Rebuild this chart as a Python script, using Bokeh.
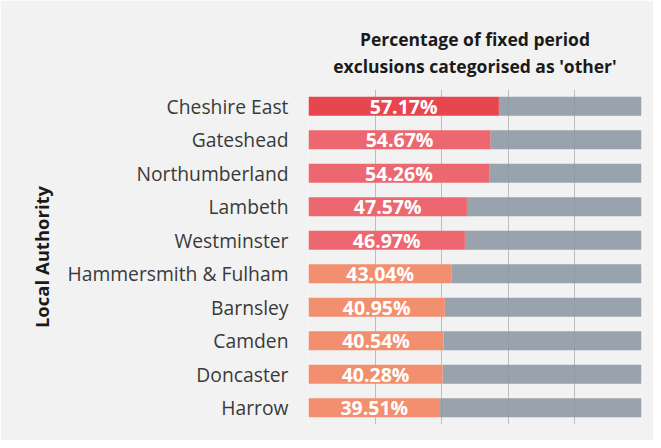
from bokeh.plotting import figure
from bokeh.models import ColumnDataSource, Range1d, FixedTicker, Title
from bokeh.core.properties import value
from bokeh.embed import file_html
from bokeh.resources import INLINE

authorities = ["Cheshire East", "Gateshead", "Northumberland", "Lambeth", "Westminster",
               "Hammersmith & Fulham", "Barnsley", "Camden", "Doncaster", "Harrow"]
pct_other = [57.17, 54.67, 54.26, 47.57, 46.97, 43.04, 40.95, 40.54, 40.28, 39.51]
x_ticks = [0, 20, 40, 60, 80, 100]
title_lines = ["Percentage of fixed period", "exclusions categorised as 'other'"]

def band_color(v):
    if v >= 55:
        return "#e8464f"
    if v >= 45:
        return "#ec6770"
    return "#f18f6f"

src = ColumnDataSource(dict(
    name=authorities,
    val=pct_other,
    rest_end=[100] * len(pct_other),
    mid=[v / 2 for v in pct_other],
    label=["%.2f%%" % v for v in pct_other],
    color=[band_color(v) for v in pct_other],
))

FONT = "Open Sans"
bg = "#f2f2f2"
p = figure(width=653, height=440, y_range=list(reversed(authorities)),
           x_range=Range1d(0, 100), x_axis_location="above",
           output_backend="svg", toolbar_location=None,
           min_border_left=308, min_border_right=12, min_border_top=89, min_border_bottom=16)

p.background_fill_color = bg
p.border_fill_color = bg
p.outline_line_color = None

p.hbar(y="name", left="val", right="rest_end", height=0.57, source=src,
       fill_color="#8a95a1", fill_alpha=0.85, line_color=None)
p.hbar(y="name", left=0, right="val", height=0.57, source=src,
       fill_color="color", line_color=None)
p.text(x="mid", y="name", text="label", source=src, text_align="center",
       text_baseline="middle", text_color="white", text_font=value(FONT),
       text_font_style="bold", text_font_size="19.5px")

p.xgrid.ticker = FixedTicker(ticks=x_ticks)
p.xgrid.grid_line_color = "#bdbdbd"
p.xgrid.grid_line_width = 1
p.ygrid.grid_line_color = None

# top axis carries only the second title line as its label
xa = p.xaxis[0]
xa.ticker = FixedTicker(ticks=[])
xa.axis_line_color = None
xa.major_tick_line_color = None
xa.minor_tick_line_color = None
xa.major_tick_out = 0
xa.major_tick_in = 0
xa.minor_tick_out = 0
xa.major_label_standoff = 0
xa.axis_label = title_lines[1]
xa.axis_label_standoff = 12
xa.axis_label_text_font = FONT
xa.axis_label_text_font_size = "17.5px"
xa.axis_label_text_font_style = "bold"
xa.axis_label_text_color = "#1a1a1a"

p.add_layout(Title(text=title_lines[0], align="center", text_font=FONT,
                   text_font_size="17.5px", text_font_style="bold",
                   text_color="#1a1a1a", standoff=0), "above")

ax = p.yaxis[0]
ax.axis_line_color = None
ax.major_tick_line_color = None
ax.minor_tick_line_color = None
ax.major_tick_out = 0
ax.major_label_standoff = 20
ax.major_label_text_font = FONT
ax.major_label_text_font_size = "19.3px"
ax.major_label_text_color = "#3a3a3a"
ax.axis_label = "Local Authority"
ax.axis_label_text_font = FONT
ax.axis_label_text_font_size = "18.5px"
ax.axis_label_text_font_style = "bold"
ax.axis_label_text_color = "#1a1a1a"
ax.axis_label_standoff = 10

open("out.html", "w").write(file_html(p, INLINE))
